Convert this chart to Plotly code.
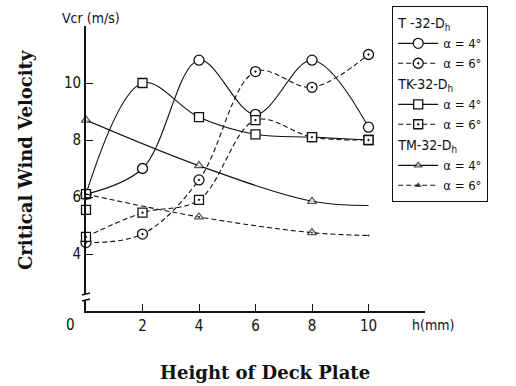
import plotly.graph_objects as go

# Deck plate height h (mm)
h = [0, 2, 4, 6, 8, 10]
tm_h = [0, 4, 8, 10]

# Critical wind velocity Vcr (m/s)
t32_a4 = [6.1, 7.0, 10.8, 8.9, 10.8, 8.45]
t32_a6 = [4.4, 4.7, 6.6, 10.4, 9.85, 11.0]
tk32_a4 = [6.1, 10.0, 8.8, 8.2, 8.1, 8.0]
tk32_a6 = [4.6, 5.45, 5.9, 8.7, 8.1, 8.0]
tm32_a4 = [8.7, 7.1, 5.85, 5.7]
tm32_a6 = [6.1, 5.3, 4.75, 4.65]
tk_extra_h = [0]
tk_extra_v = [5.55]

x_ticks = [2, 4, 6, 8, 10]
y_ticks = [4, 6, 8, 10]

INK = "#111111"
SANS = "DejaVu Sans Condensed, Liberation Sans, sans-serif"
SERIF = "DejaVu Serif, Liberation Serif, serif"
DASH = "5px,3px"

fig = go.Figure()


def add(x, y, name, group, symbol, dash, size=9, title=None, sizes=None, showlegend=True):
    fig.add_trace(go.Scatter(
        x=x, y=y, name=name, mode="lines+markers",
        legendgroup=group, showlegend=showlegend,
        legendgrouptitle=dict(text=title, font=dict(size=14, color=INK, family=SANS)) if title else None,
        line=dict(color=INK, width=1.1, shape="spline", dash=dash),
        marker=dict(symbol=symbol, size=sizes if sizes else size, color="white",
                    line=dict(color=INK, width=1.3)),
        cliponaxis=False,
    ))


add(h, t32_a4, "α = 4°", "T", "circle", "solid", size=10, title="T -32-D<sub>h</sub>")
add(h, t32_a6, "α = 6°", "T", "circle-dot", DASH, size=10)
add(h, tk32_a4, "α = 4°", "TK", "square", "solid", size=9, title="TK-32-D<sub>h</sub>")
add(h, tk32_a6, "α = 6°", "TK", "square-dot", DASH, size=9)
fig.add_trace(go.Scatter(
    x=tk_extra_h, y=tk_extra_v, mode="markers", legendgroup="TK", showlegend=False,
    marker=dict(symbol="square", size=9, color="white", line=dict(color=INK, width=1.3)),
    cliponaxis=False,
))
add(tm_h, tm32_a4, "α = 4°", "TM", "triangle-up", "solid", sizes=[8, 8, 8, 0],
    title="TM-32-D<sub>h</sub>")
add(tm_h, tm32_a6, "α = 6°", "TM", "triangle-up-dot", DASH, sizes=[0, 8, 8, 0])

# Pixel steps in paper coordinates (plot area 339 x 285 px)
px_x = 1 / 339
px_y = 1 / 285


def px(xp, yp):
    """Page pixel position -> paper coordinates."""
    return (xp - 86) * px_x, (311 - yp) * px_y


# Axis break mark near the bottom of the velocity axis
yb = 14 * px_y
fig.add_shape(type="rect", xref="paper", yref="paper",
              x0=-3 * px_x, x1=3 * px_x, y0=yb - 3 * px_y, y1=yb + 3 * px_y,
              fillcolor="white", line=dict(width=0))
for dy in (-3, 3):
    fig.add_shape(type="line", xref="paper", yref="paper",
                  x0=-4 * px_x, x1=4 * px_x,
                  y0=yb + dy * px_y - 1 * px_y, y1=yb + dy * px_y + 1 * px_y,
                  line=dict(color=INK, width=1.3))

labels = [
    ("0", 70, 325, "center", dict(family=SANS, size=15, color=INK), 0),
    ("Vcr (m/s)", 91, 18, "center", dict(family=SANS, size=14, color=INK), 0),
    ("h(mm)", 410, 325, "left", dict(family=SANS, size=14, color=INK), 0),
    ("<b>Height of Deck Plate</b>", 265, 372, "center", dict(family=SERIF, size=18, color=INK), 0),
    ("<b>Critical Wind Velocity</b>", 25, 160, "center", dict(family=SERIF, size=18, color=INK), -90),
]
for text, xp, yp, anchor, font, angle in labels:
    ax, ay = px(xp, yp)
    fig.add_annotation(text=text, xref="paper", yref="paper", x=ax, y=ay,
                       xanchor=anchor, yanchor="middle", textangle=angle,
                       showarrow=False, font=font)

fig.update_layout(
    width=516, height=386,
    margin=dict(l=86, r=91, t=26, b=75, autoexpand=False),
    paper_bgcolor="white", plot_bgcolor="white",
    font=dict(family=SANS, size=14, color=INK),
    legend=dict(
        x=(392 - 86) * px_x, y=1 + 20 * px_y,
        xanchor="left", yanchor="top",
        bordercolor=INK, borderwidth=1.2, bgcolor="white",
        font=dict(family=SANS, size=13, color=INK),
        tracegroupgap=0, itemwidth=40, traceorder="grouped",
        maxheight=360,
    ),
    xaxis=dict(
        range=[0, 12], showline=True, linecolor=INK, linewidth=1.5,
        showgrid=False, zeroline=False, ticks="inside", ticklen=7, tickcolor=INK,
        tickvals=x_ticks, tickfont=dict(family=SANS, size=15, color=INK),
    ),
    yaxis=dict(
        range=[2, 12], showline=True, linecolor=INK, linewidth=1.8,
        showgrid=False, zeroline=False, ticks="inside", ticklen=7, tickcolor=INK,
        tickvals=y_ticks, tickfont=dict(family=SANS, size=15, color=INK),
    ),
)

fig.write_html("out.html")
